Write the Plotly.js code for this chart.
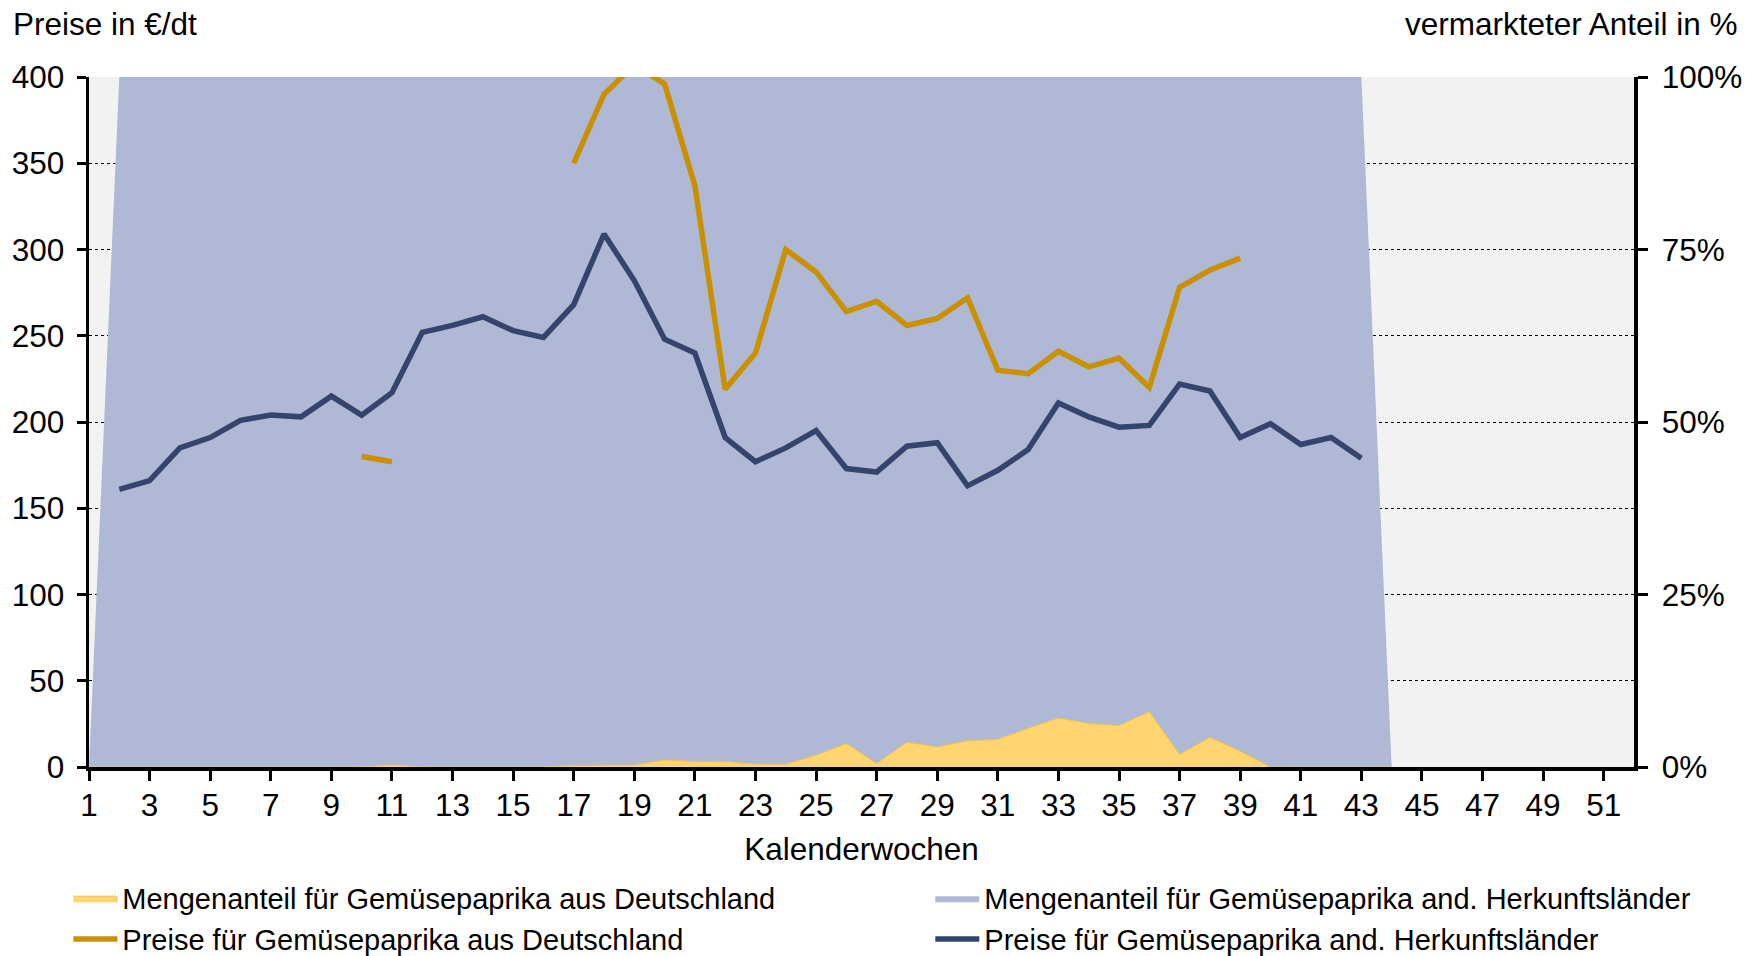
<!DOCTYPE html>
<html>
<head>
<meta charset="utf-8">
<script src="https://cdn.plot.ly/plotly-3.0.1.min.js"></script>
<style>html,body{margin:0;padding:0;background:#fff;}#chart{width:1752px;height:956px;}</style>
</head>
<body>
<div id="chart"></div>
<script>
// Calendar weeks
const weeks = Array.from({length: 52}, (_, i) => i + 1);
const areaWeeks = weeks.slice(0, 44); // weeks 1..44
const xTickVals = [1,3,5,7,9,11,13,15,17,19,21,23,25,27,29,31,33,35,37,39,41,43,45,47,49,51];

// Share of German bell peppers (%), weeks 1..44
const shareGermany = [0,0,0,0,0,0,0,0,0,0, 0.3,0,0,0,0,0,0.2,0.3,0.3,1.0,
  0.8,0.8,0.4,0.4,1.7,3.4,0.5,3.6,2.9,3.8, 4.0,5.6,7.1,6.3,6.0,8.0,1.8,4.3,2.3,0,
  0,0,0,0];
// Share of other origins (%), weeks 1..44
const shareOther = [0,100,100,100,100,100,100,100,100,100, 99.7,100,100,100,100,100,99.8,99.7,99.7,99.0,
  99.2,99.2,99.6,99.6,98.3,96.6,99.5,96.4,97.1,96.2, 96.0,94.4,92.9,93.7,94.0,92.0,98.2,95.7,97.7,100,
  100,100,100,0];

// Prices in EUR/dt, weeks 1..52
const priceGermany = [null,null,null,null,null,null,null,null,null,180, 177,null,null,null,null,null,350,390,407,396,
  337,219,240,300,287,264,270,256,260,272, 230,228,241,232,237,220,278,288,295,null,
  null,null,null,null,null,null,null,null,null,null, null,null];
const priceOther = [null,161,166,185,191,201,204,203,215,204, 217,252,256,261,253,249,268,309,282,248,
  240,191,177,185,195,173,171,186,188,163, 172,184,211,203,197,198,222,218,191,199,
  187,191,179,null,null,null,null,null,null,null, null,null];

const labels = {
  areaDE: 'Mengenanteil für Gemüsepaprika aus Deutschland',
  areaOther: 'Mengenanteil für Gemüsepaprika and. Herkunftsländer',
  priceDE: 'Preise für Gemüsepaprika aus Deutschland',
  priceOther: 'Preise für Gemüsepaprika and. Herkunftsländer'
};

const FONT = 'Arial, "Liberation Sans", sans-serif';
const FS = 31.5;

const traces = [
  {x: areaWeeks, y: shareGermany, name: labels.areaDE, type: 'scatter', mode: 'lines',
   stackgroup: 'share', fillcolor: '#FFD56F', line: {color: '#F3C24A', width: 1},
   xaxis: 'x', yaxis: 'y', legend: 'legend', legendgroup: 'a', hoverinfo: 'skip'},
  {x: areaWeeks, y: shareOther, name: labels.areaOther, type: 'scatter', mode: 'lines',
   stackgroup: 'share', fillcolor: '#AFB9D6', line: {color: '#AFB9D6', width: 0},
   xaxis: 'x', yaxis: 'y', legend: 'legend2', legendgroup: 'b', hoverinfo: 'skip'},
  {x: weeks, y: priceGermany, name: labels.priceDE, type: 'scatter', mode: 'lines',
   line: {color: '#C99000', width: 5.5}, connectgaps: false,
   xaxis: 'x', yaxis: 'y2', legend: 'legend', legendgroup: 'c'},
  {x: weeks, y: priceOther, name: labels.priceOther, type: 'scatter', mode: 'lines',
   line: {color: '#34446C', width: 5.5}, connectgaps: false,
   xaxis: 'x', yaxis: 'y2', legend: 'legend2', legendgroup: 'd'}
];

const layout = {
  width: 1752, height: 956,
  margin: {l: 89, r: 118, t: 77, b: 189, pad: 0, autoexpand: false},
  paper_bgcolor: '#FFFFFF',
  plot_bgcolor: '#F2F2F2',
  font: {family: FONT, size: FS, color: '#000'},
  showlegend: true,
  xaxis: {
    range: [1, 52], tickvals: xTickVals, showgrid: false, zeroline: false,
    showline: true, linecolor: '#000', linewidth: 3.5,
    ticks: 'outside', ticklen: 10, tickwidth: 3, tickcolor: '#000',
    tickfont: {size: FS}, ticklabelstandoff: -2, tickangle: 0,
    title: {text: 'Kalenderwochen', font: {size: FS}, standoff: 16},
    automargin: false, fixedrange: true
  },
  yaxis: {
    range: [0, 100], side: 'right', tickvals: [0,25,50,75,100],
    ticktext: ['0%','25%','50%','75%','100%'],
    showgrid: false, zeroline: false,
    showline: true, linecolor: '#000', linewidth: 3.5,
    ticks: 'outside', ticklen: 10, tickwidth: 3, tickcolor: '#000',
    tickfont: {size: FS}, ticklabelstandoff: 8,
    automargin: false, fixedrange: true
  },
  yaxis2: {
    range: [0, 400], overlaying: 'y', side: 'left', dtick: 50, tick0: 0,
    showgrid: true, gridcolor: '#000', gridwidth: 1, griddash: 'dot', zeroline: false,
    showline: true, linecolor: '#000', linewidth: 3.5,
    ticks: 'outside', ticklen: 9, tickwidth: 3, tickcolor: '#000',
    tickfont: {size: FS}, ticklabelstandoff: 6,
    automargin: false, fixedrange: true
  },
  legend: {
    xref: 'container', yref: 'container', x: 0.039, y: 0.087, xanchor: 'left', yanchor: 'top',
    orientation: 'v', bgcolor: 'rgba(0,0,0,0)', borderwidth: 0,
    font: {size: 29}, itemwidth: 44, tracegroupgap: 5, traceorder: 'normal'
  },
  legend2: {
    xref: 'container', yref: 'container', x: 0.531, y: 0.087, xanchor: 'left', yanchor: 'top',
    orientation: 'v', bgcolor: 'rgba(0,0,0,0)', borderwidth: 0,
    font: {size: 29}, itemwidth: 44, tracegroupgap: 5, traceorder: 'normal'
  },
  annotations: [
    {text: 'Preise in €/dt', xref: 'paper', yref: 'paper', x: -0.0503, y: 1.077,
     xanchor: 'left', yanchor: 'middle', showarrow: false, font: {size: FS}},
    {text: 'vermarkteter Anteil in %', xref: 'paper', yref: 'paper', x: 1.0689, y: 1.077,
     xanchor: 'right', yanchor: 'middle', showarrow: false, font: {size: FS}}
  ]
};

Plotly.newPlot('chart', traces, layout, {staticPlot: true, displayModeBar: false});
</script>
</body>
</html>
